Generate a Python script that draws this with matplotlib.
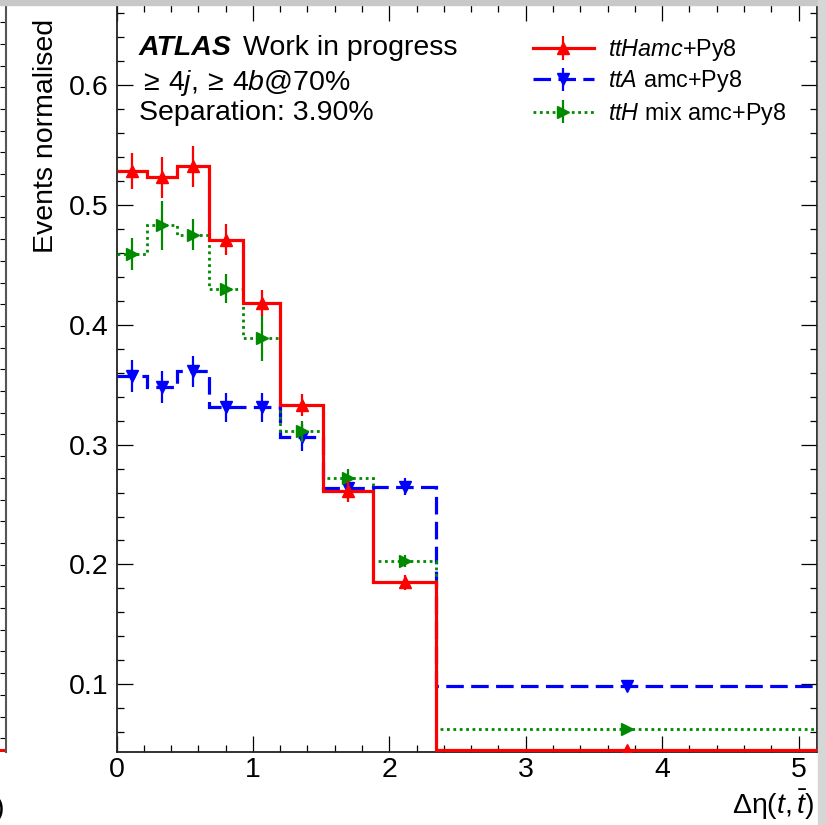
import numpy as np
import matplotlib
matplotlib.use('Agg')
import matplotlib.pyplot as plt
from matplotlib.patches import Rectangle
from matplotlib.ticker import MultipleLocator

plt.rcParams['font.family'] = 'Liberation Sans'
plt.rcParams['mathtext.fontset'] = 'custom'
plt.rcParams['mathtext.rm'] = 'Liberation Sans'
plt.rcParams['mathtext.it'] = 'Liberation Sans:italic'
plt.rcParams['mathtext.bf'] = 'Liberation Sans:bold'

# Bin edges in delta eta(t, tbar)
edges = [0.0, 0.227, 0.447, 0.681, 0.930, 1.201, 1.516, 1.883, 2.344, 5.135]

# Normalised yields and stat. errors per sample
tth_vals = [0.528, 0.523, 0.532, 0.471, 0.418, 0.333, 0.261, 0.185, 0.0455]
tth_errs = [0.015, 0.017, 0.017, 0.013, 0.011, 0.0095, 0.009, 0.006, 0.002]
tta_vals = [0.357, 0.348, 0.361, 0.331, 0.331, 0.306, 0.264, 0.265, 0.0985]
tta_errs = [0.0135, 0.0135, 0.013, 0.012, 0.012, 0.0115, 0.009, 0.007, 0.003]
mix_vals = [0.459, 0.483, 0.475, 0.430, 0.389, 0.311, 0.272, 0.203, 0.063]
mix_errs = [0.013, 0.0205, 0.013, 0.012, 0.0195, 0.009, 0.008, 0.005, 0.002]

labels = [r'$ttHamc$+Py8', r'$ttA$ amc+Py8', r'$ttH$ mix amc+Py8']

W, H = 826, 825
fs = 20.5

fig = plt.figure(figsize=(W / 100, H / 100), dpi=100)

# screenshot leftovers: grey band on top / right, frame of neighbouring pad
fig.patches.append(Rectangle((0, 1 - 5 / H), 1, 5 / H, transform=fig.transFigure,
                             color='#c8c8c8', zorder=0))
fig.patches.append(Rectangle((818 / W, 0), 8 / W, 1, transform=fig.transFigure,
                             color='#d6d6d6', zorder=0))
axl = fig.add_axes([-0.05, 1 - 751.5 / H, 0.05 + 5.5 / W, 751.5 / H])
axl.set_xlim(0, 1)
axl.set_ylim(0, 751.5)
for s in ['left', 'top', 'bottom']:
    axl.spines[s].set_visible(False)
axl.spines['right'].set_color('#555555')
axl.spines['right'].set_linewidth(1.5)
axl.yaxis.tick_right()
axl.set_yticks(np.arange(13.3, 751.5, 21.7))
axl.tick_params(axis='y', direction='in', length=4.5, width=0.8, labelright=False)
axl.set_xticks([])
axl.axhline(1.5, color='red', lw=2.2)
axl.plot([0.7], [20], 's', color='green', ms=2)
fig.text(4 / W, 1 - 822 / H, ')', fontsize=fs, ha='right', va='bottom')

# main pad
x0, x1 = 116.5, 817.0
y0, y1 = 5.0, 751.7
ax = fig.add_axes([x0 / W, 1 - y1 / H, (x1 - x0) / W, (y1 - y0) / H])

edges = np.array(edges)
centers = 0.5 * (edges[1:] + edges[:-1])

samples = [
    (tta_vals, tta_errs, 'blue', 'v', (0, (5.5, 2.3)), 2.3, 3),
    (mix_vals, mix_errs, '#008a00', '>', (0, (1.0, 1.3)), 2.0, 4),
    (tth_vals, tth_errs, 'red', '^', '-', 2.3, 5),
]
handles = {}
for vals, errs, col, mk, ls, lw, z in samples:
    ax.stairs(vals, edges, baseline=None, color=col, lw=lw, linestyle=ls, zorder=z)
    ax.errorbar(centers, vals, yerr=errs, fmt=mk, color=col, ms=8, elinewidth=1.6,
                capsize=0, zorder=z + 0.5, clip_on=True)
    # proxy for legend: line + marker + vertical error bar
    handles[col] = ax.errorbar([np.nan], [np.nan], yerr=[np.nan], fmt=mk, color=col,
                               ms=8, elinewidth=1.6, linestyle=ls, lw=lw)

ax.set_xlim(0, 5.135)
ax.set_ylim(0.0438, 0.6667)
ax.xaxis.set_major_locator(MultipleLocator(1))
ax.xaxis.set_minor_locator(MultipleLocator(0.2))
ax.yaxis.set_major_locator(MultipleLocator(0.1))
ax.yaxis.set_minor_locator(MultipleLocator(0.02))
ax.tick_params(which='both', direction='in', top=True, right=True, width=0.9,
               labelsize=fs)
ax.tick_params(which='major', length=11.5)
ax.tick_params(which='minor', length=5)
ax.tick_params(axis='y', pad=6)
ax.tick_params(axis='x', pad=4)
for s in ax.spines.values():
    s.set_linewidth(1.3)
    s.set_color('#222222')

leg = ax.legend([handles['red'], handles['blue'], handles['#008a00']], labels,
                loc='upper left', bbox_to_anchor=(533 / W, 1 - 37 / H),
                bbox_transform=fig.transFigure, frameon=False, fontsize=16.8,
                borderpad=0, borderaxespad=0, handlelength=2.6,
                handletextpad=0.6, labelspacing=0.23)

fig.text(46.5 / W, 1 - 19 / H, 'Events normalised', rotation=90, fontsize=fs,
         ha='center', va='top')
fig.text(815 / W, 1 - 822 / H, r'$\Delta\mathrm{\eta}(t,\bar{t})$', fontsize=fs,
         ha='right', va='bottom')

fig.text(139 / W, 1 - 55 / H, 'ATLAS', fontsize=fs, fontweight='bold',
         fontstyle='italic', va='baseline')
fig.text(243 / W, 1 - 55 / H, 'Work in progress', fontsize=fs, va='baseline')
fig.text(139 / W, 1 - 90 / H, r'$\geq\,4j, \geq\,4b$@70%', fontsize=fs,
         va='baseline')
fig.text(139 / W, 1 - 120 / H, 'Separation: 3.90%', fontsize=fs, va='baseline')

fig.savefig('out.png', dpi=100)
